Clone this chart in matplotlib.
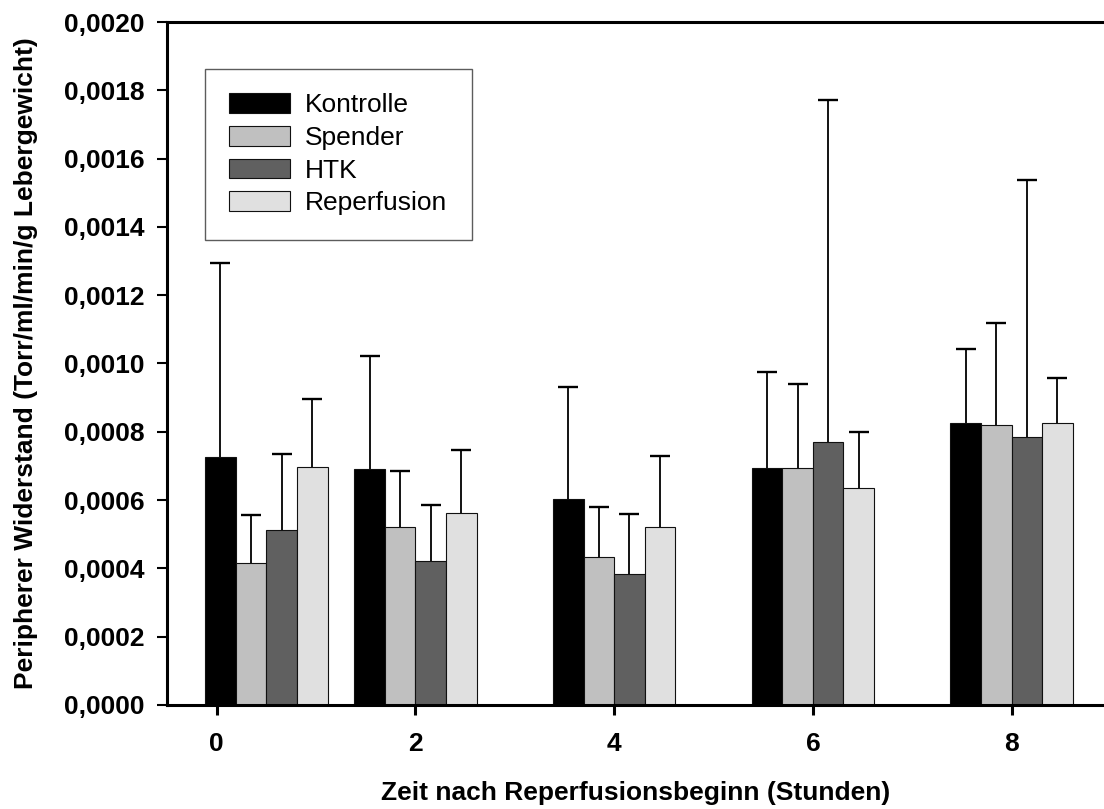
import matplotlib
matplotlib.use('Agg')
import matplotlib.pyplot as plt
import numpy as np

plt.rcParams['font.family'] = ['Liberation Sans', 'DejaVu Sans']

# ------- data (values in 1e-4 Torr/ml/min/g) -------
groups = ['Kontrolle', 'Spender', 'HTK', 'Reperfusion']
x_pos = [0.5, 2, 4, 6, 8]
kontrolle = [7.25, 6.92, 6.03, 6.95, 8.27]
spender = [4.15, 5.21, 4.32, 6.93, 8.20]
htk = [5.13, 4.21, 3.84, 7.70, 7.86]
reperfusion = [6.96, 5.62, 5.21, 6.36, 8.25]
kontrolle_sd = [5.68, 3.30, 3.27, 2.80, 2.15]
spender_sd = [1.40, 1.63, 1.48, 2.47, 2.98]
htk_sd = [2.23, 1.65, 1.76, 10.02, 7.52]
reperfusion_sd = [1.99, 1.84, 2.09, 1.64, 1.32]

xticks = [0, 2, 4, 6, 8]
xticklabels = ['0', '2', '4', '6', '8']
yticks = [0, 0.0002, 0.0004, 0.0006, 0.0008, 0.0010, 0.0012, 0.0014, 0.0016, 0.0018, 0.0020]
yticklabels = ['0,0000', '0,0002', '0,0004', '0,0006', '0,0008', '0,0010',
               '0,0012', '0,0014', '0,0016', '0,0018', '0,0020']

colors = ['#000000', '#c0c0c0', '#606060', '#e0e0e0']
means = [kontrolle, spender, htk, reperfusion]
sds = [kontrolle_sd, spender_sd, htk_sd, reperfusion_sd]

#------ figure ------
fig = plt.figure(figsize=(11.04, 8.09), dpi=100)
ax = fig.add_axes([0.1513, 0.1286, 0.8487, 0.8442])

w = 0.308
for i in range(4):
    m = np.array(means[i]) * 1e-4
    s = np.array(sds[i]) * 1e-4
    xs = np.array(x_pos) + (i - 1.5) * w
    ax.bar(xs, m, width=w, color=colors[i], edgecolor='#111111', linewidth=0.8,
           label=groups[i], zorder=2)
    eb = ax.errorbar(xs, m, yerr=[np.zeros_like(s), s], fmt='none', ecolor='black',
                     elinewidth=1.3, capsize=7, capthick=1.7, zorder=3)
    # only the upper cap
    eb[1][0].set_visible(False)

ax.set_xlim(-0.5, 8.93)
ax.set_ylim(0, 0.0020)
ax.set_xticks(xticks)
ax.set_xticklabels(xticklabels, fontsize=19, fontweight='bold')
ax.set_yticks(yticks)
ax.set_yticklabels(yticklabels, fontsize=19, fontweight='bold')

for sp in ['left', 'bottom', 'top']:
    ax.spines[sp].set_linewidth(2.2)
ax.spines['right'].set_visible(False)
ax.tick_params(axis='y', direction='out', length=7.2, width=1.5, pad=9)
ax.tick_params(axis='x', direction='out', length=7.2, width=2.2, pad=12)

ax.set_ylabel('Peripherer Widerstand (Torr/ml/min/g Lebergewicht)', fontsize=19, fontweight='bold')
ax.yaxis.set_label_coords(-0.138, 0.5)
ax.set_xlabel('Zeit nach Reperfusionsbeginn (Stunden)', fontsize=19, fontweight='bold')
ax.xaxis.set_label_coords(0.5, -0.112)

leg = ax.legend(loc='upper left', bbox_to_anchor=(205 / 1104, 1 - 69 / 809),
                bbox_transform=fig.transFigure, fontsize=19, frameon=True, fancybox=False,
                handlelength=2.31, handleheight=0.76, handletextpad=0.57,
                labelspacing=0.33, borderpad=0.92, borderaxespad=0)
leg.get_frame().set_edgecolor('#333333')
leg.get_frame().set_linewidth(1.0)

fig.savefig('out.png', dpi=100)
